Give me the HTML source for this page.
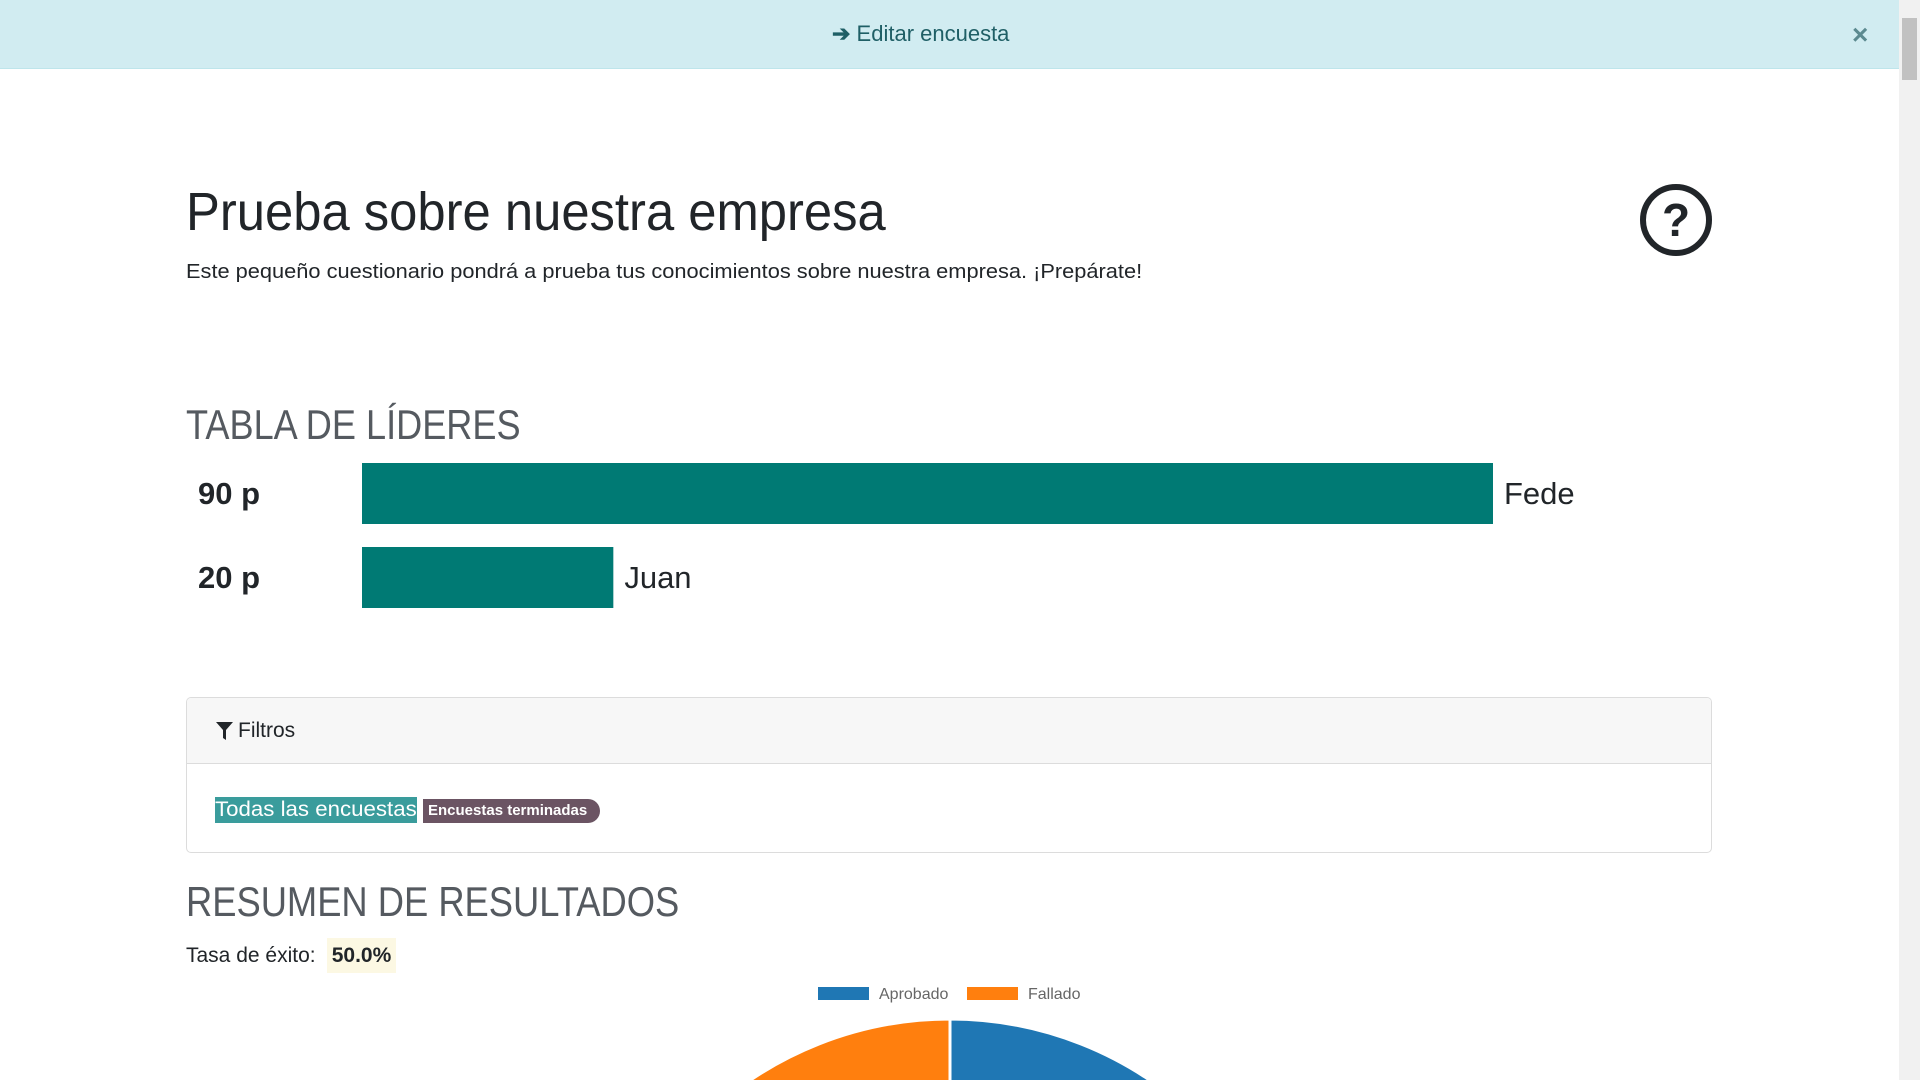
<!DOCTYPE html>
<html><head><meta charset="utf-8">
<style>
*{margin:0;padding:0;box-sizing:border-box}
html{overflow:hidden;width:1920px;height:1080px}
body{width:1920px;height:1080px;overflow:hidden;background:#fff;font-family:"Liberation Sans",sans-serif;color:#212529;position:relative}
.abs{position:absolute;white-space:nowrap}
.banner{left:0;top:0;width:1899px;height:69px;background:#d1ecf1;border-bottom:1px solid #bee5eb}
.sx{transform-origin:left center;display:inline-block}
</style></head><body>
<div class="abs banner">
  <div class="abs" style="left:832px;top:21px;font-size:22px;color:#1f5f66"><span style="font-weight:bold">➔</span> Editar encuesta</div>
  <div class="abs" style="left:1852px;top:19px;font-size:28px;color:#5c8a90;font-weight:bold">×</div>
</div>
<div class="abs" style="left:1899px;top:0;width:21px;height:1080px;background:#f1f1f1">
  <div style="position:absolute;left:3px;top:18px;width:15px;height:62px;background:#c1c1c1"></div>
</div>

<div class="abs" style="left:186px;top:180px;font-size:54px;line-height:64px;color:#212529"><span class="sx" style="transform:scaleX(0.94)">Prueba sobre nuestra empresa</span></div>
<div class="abs" style="left:186px;top:259px;font-size:20px;line-height:26px"><span class="sx" style="transform:scaleX(1.09)">Este pequeño cuestionario pondrá a prueba tus conocimientos sobre nuestra empresa. ¡Prepárate!</span></div>
<svg class="abs" style="left:1638px;top:182px" width="76" height="76">
  <circle cx="38" cy="38" r="33" fill="none" stroke="#212529" stroke-width="6"/>
  <text x="38" y="54" text-anchor="middle" font-family="Liberation Sans" font-weight="bold" font-size="46" fill="#212529">?</text>
</svg>

<div class="abs" style="left:186px;top:402px;font-size:42px;line-height:46px;color:#555a60"><span class="sx" style="transform:scaleX(0.86)">TABLA DE LÍDERES</span></div>
<svg class="abs" id="lb" style="left:0;top:440px" width="1899" height="200"></svg>

<div class="abs" style="left:186px;top:697px;width:1526px;height:156px;border:1px solid #dcdcdc;border-radius:5px;overflow:hidden">
  <div style="height:66px;background:#f7f7f7;border-bottom:1px solid #dcdcdc;position:relative">
    <svg style="position:absolute;left:29px;top:24px" width="18" height="19"><path d="M0 0H17L10 8V18L7 16V8Z" fill="#212529"/></svg>
    <div class="abs" style="left:51px;top:21px;font-size:21px">Filtros</div>
  </div>
  <div class="abs" style="left:28px;top:99px;width:202px;height:26px;background:#3a9c9c;color:#fff;font-size:21px;line-height:26px"><span class="sx" style="transform:scaleX(1.06)">Todas las encuestas</span></div>
  <div class="abs" style="left:236px;top:101px;width:177px;height:24px;background:#6b5463;color:#fff;font-size:15px;font-weight:bold;line-height:24px;border-radius:0 12px 12px 0;padding-left:5px"><span class="sx" style="transform:scaleX(1.0)">Encuestas terminadas</span></div>
</div>

<div class="abs" style="left:186px;top:879px;font-size:42px;line-height:46px;color:#555a60"><span class="sx" style="transform:scaleX(0.865)">RESUMEN DE RESULTADOS</span></div>
<div class="abs" style="left:186px;top:943px;font-size:21px;line-height:26px">Tasa de éxito:</div>
<div class="abs" style="left:327px;top:938px;width:69px;height:35px;background:#fcf8e3;font-size:21px;font-weight:bold;line-height:35px;text-align:center">50.0%</div>
<svg class="abs" id="pie" style="left:0;top:970px" width="1899" height="110"></svg>

<script>
const names=["Fede","Juan"];
const scores=[90,20];
const pieLabels=["Aprobado","Fallado"];
const pieValues=[1,1];
const pieColors=["#1f77b4","#ff7f0e"];
const NS="http://www.w3.org/2000/svg";
function mk(t,a,p){const e=document.createElementNS(NS,t);for(const k in a)e.setAttribute(k,a[k]);p.appendChild(e);return e;}
const lb=document.getElementById('lb');
const x0=362, pxPer=1131/90;
const xs=v=>v*pxPer;
scores.forEach((s,i)=>{
  const y=23+i*84;
  const r=mk('rect',{x:x0,y:y,width:xs(s),height:61,fill:'#007a74'},lb);
  
  
  const t=mk('text',{x:198,y:y+41,'font-size':31,'font-weight':'bold','font-family':'Liberation Sans',fill:'#212529'},lb);
  t.textContent=s+' p';
  
  
  const n=mk('text',{x:x0+xs(s)+11,y:y+41,'font-size':31,'font-family':'Liberation Sans',fill:'#212529'},lb);
  n.textContent=names[i];
  
  
});
const pie=document.getElementById('pie');
let lx=818;
pieLabels.forEach((l,i)=>{
  const r=mk('rect',{x:lx,y:17,width:51,height:13,fill:pieColors[i]},pie);
  
  
  const t=mk('text',{x:lx+61,y:29,'font-size':16,'font-family':'Liberation Sans',fill:'#666'},pie);
  t.textContent=l;
  
  
  lx+=149;
});
const cx=950, cy=405, R=356;
const tot=pieValues.reduce((a,b)=>a+b,0);
let a=-Math.PI/2;
pieValues.forEach((v,i)=>{
  const a2=a+v/tot*2*Math.PI;
  const p=mk('path',{d:`M${cx},${cy}L${cx+R*Math.cos(a)},${cy+R*Math.sin(a)}A${R},${R} 0 ${a2-a>Math.PI?1:0} 1 ${cx+R*Math.cos(a2)},${cy+R*Math.sin(a2)}Z`,fill:pieColors[i],stroke:'#fff','stroke-width':3},pie);
  
  
  a=a2;
});
</script>
</body></html>
